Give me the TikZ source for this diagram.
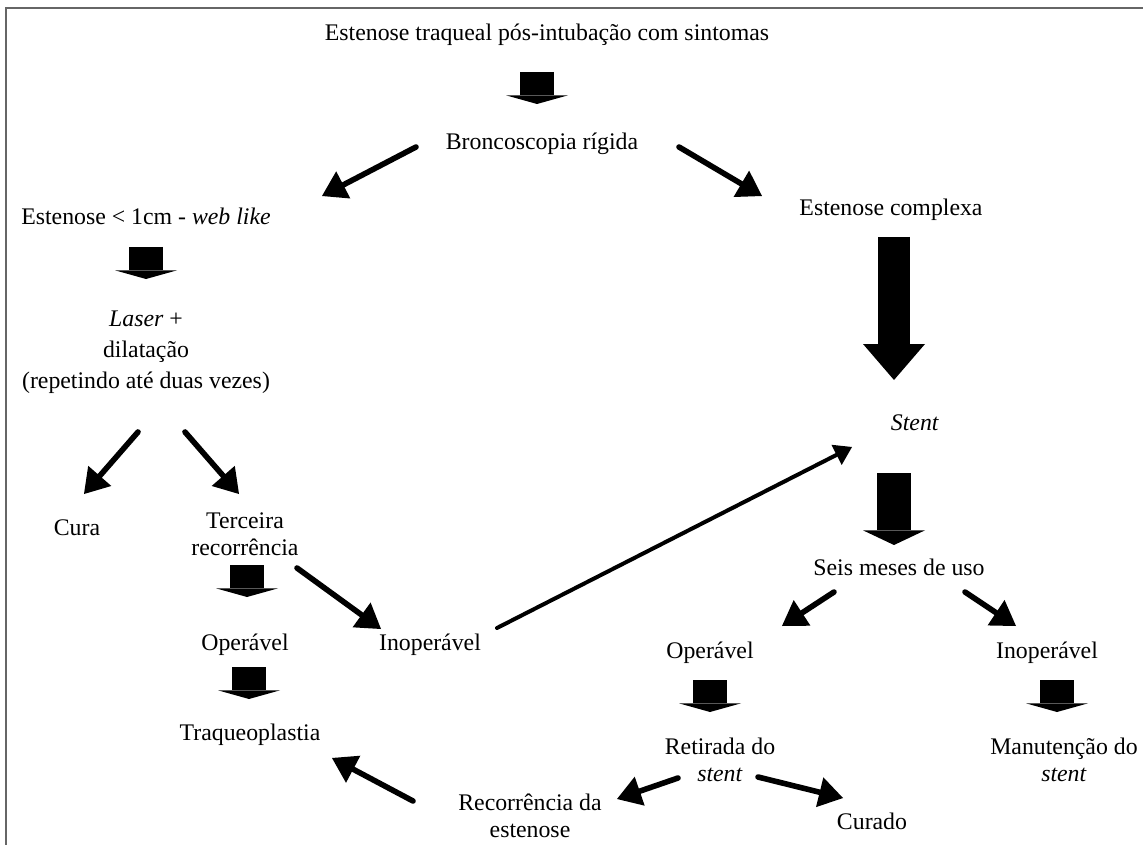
\documentclass[tikz,border=0pt]{standalone}
\usepackage{fontspec}
\setmainfont{Liberation Serif}
\usetikzlibrary{arrows.meta}
\newcommand{\fsz}{\fontsize{17.85}{20.25}\selectfont}
\newcommand{\twoline}[2]{\begin{tabular}[t]{@{}c@{}}#1\\#2\end{tabular}}
\begin{document}
\begin{tikzpicture}[x=0.75pt,y=-0.75pt,
  lbl/.style={anchor=base, inner sep=0pt, font=\fsz},
  blockarr/.style={line width=25.5pt, -{Triangle[width=46.5pt,length=6.5pt,line width=0pt]}},
  bigarr/.style={line width=24pt, -{Triangle[width=46.5pt,length=27pt,line width=0pt]}},
  thinarr/.style={line width=4.2pt, line cap=round, -{Triangle[length=18pt,width=23pt,line width=0pt]}},
  longarr/.style={line width=3pt, line cap=round, -{Triangle[length=13pt,width=17pt,line width=0pt]}},
  frame/.style={draw=black!60, line width=1.5pt}]
\useasboundingbox (0,0) rectangle (1143,845);
\draw[frame] (6,845) -- (6,8) -- (1143,8);

% text nodes
\node[lbl] (t1) at (547,41) {Estenose traqueal pós-intubação com sintomas};
\node[lbl] (bronco) at (542,150) {Broncoscopia rígida};
\node[lbl] (estA) at (146,225) {Estenose < 1cm - \textit{web like}};
\node[lbl] (estB) at (891,216) {Estenose complexa};
\node[lbl, font=\fontsize{17.85}{23.25}\selectfont] (laser) at (146,326)
  {\begin{tabular}[t]{@{}c@{}}\textit{Laser} +\\dilatação\\(repetindo até duas vezes)\end{tabular}};
\node[lbl] (cura) at (77,535) {Cura};
\node[lbl] (terc) at (245,528) {\twoline{Terceira}{recorrência}};
\node[lbl] (oper1) at (245,650) {Operável};
\node[lbl] (inop1) at (430,650) {Inoperável};
\node[lbl] (traq) at (250,740) {Traqueoplastia};
\node[lbl] (stent) at (915,430) {\textit{Stent}};
\node[lbl] (seis) at (899,575) {Seis meses de uso};
\node[lbl] (oper2) at (710,658) {Operável};
\node[lbl] (inop2) at (1047,658) {Inoperável};
\node[lbl] (retir) at (720,754) {\twoline{Retirada do}{\textit{stent}}};
\node[lbl] (manut) at (1064,754) {\twoline{Manutenção do}{\textit{stent}}};
\node[lbl] (recor) at (530,810) {\twoline{Recorrência da}{estenose}};
\node[lbl] (curado) at (872,829) {Curado};

% block arrow ends
\coordinate (b1s) at (537,72);   \coordinate (b1e) at (537,104);
\coordinate (b2s) at (146,247);  \coordinate (b2e) at (146,279);
\coordinate (b3s) at (247,565);  \coordinate (b3e) at (247,597);
\coordinate (b4s) at (249,667);  \coordinate (b4e) at (249,699);
\coordinate (bgs) at (894,237);  \coordinate (bge) at (894,380);
\coordinate (b5s) at (894,473);  \coordinate (b5e) at (894,545);
\coordinate (b6s) at (710,680);  \coordinate (b6e) at (710,712);
\coordinate (b7s) at (1057,680); \coordinate (b7e) at (1057,712);

\draw[blockarr] (b1s) -- (b1e);
\draw[blockarr] (b2s) -- (b2e);
\draw[blockarr] (b3s) -- (b3e);
\draw[blockarr] (b4s) -- (b4e);
\draw[bigarr] (bgs) -- (bge);
\draw[blockarr, -{Triangle[width=46.5pt,length=11pt,line width=0pt]}] (b5s) -- (b5e);
\draw[blockarr] (b6s) -- (b6e);
\draw[blockarr] (b7s) -- (b7e);

% thin arrow ends
\coordinate (aLs) at (416,147); \coordinate (aLe) at (322,196);
\coordinate (aRs) at (679,147); \coordinate (aRe) at (762,196);
\coordinate (lcs) at (138,432); \coordinate (lce) at (84,494);
\coordinate (lts) at (185,432); \coordinate (lte) at (239,494);
\coordinate (tis) at (297,568); \coordinate (tie) at (381,629);
\coordinate (lgs) at (497,628); \coordinate (lge) at (852,447);
\coordinate (sLs) at (834,592); \coordinate (sLe) at (782,626);
\coordinate (sRs) at (965,592); \coordinate (sRe) at (1016,626);
\coordinate (rLs) at (678,778); \coordinate (rLe) at (617,799);
\coordinate (rRs) at (758,777); \coordinate (rRe) at (843,798);
\coordinate (rts) at (413,801); \coordinate (rte) at (332,758);

\draw[thinarr] (aLs) -- (aLe);
\draw[thinarr] (aRs) -- (aRe);
\draw[thinarr] (lcs) -- (lce);
\draw[thinarr] (lts) -- (lte);
\draw[thinarr] (tis) -- (tie);
\draw[longarr] (lgs) -- (lge);
\draw[thinarr] (sLs) -- (sLe);
\draw[thinarr] (sRs) -- (sRe);
\draw[thinarr] (rLs) -- (rLe);
\draw[thinarr] (rRs) -- (rRe);
\draw[thinarr] (rts) -- (rte);
\end{tikzpicture}
\end{document}
